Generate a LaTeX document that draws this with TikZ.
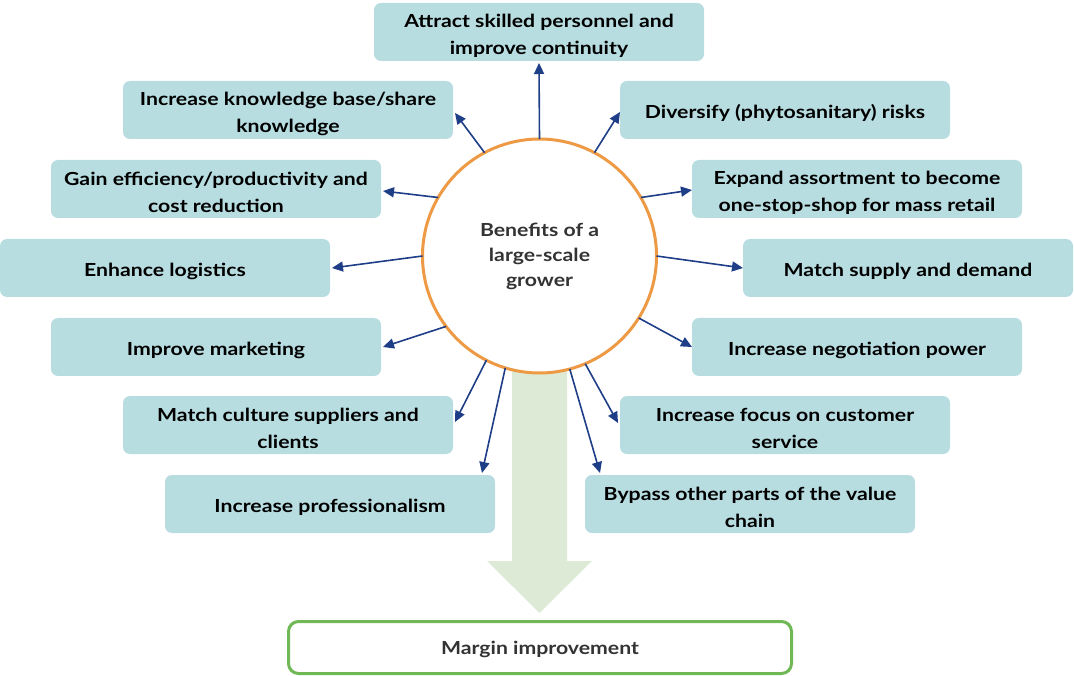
\documentclass[tikz,border=0pt]{standalone}
\usepackage{fontspec}
\setmainfont{Lato}[FakeStretch=1.18]
\usetikzlibrary{arrows.meta,calc}
\definecolor{boxfill}{HTML}{B7DDE1}
\definecolor{arrowblue}{HTML}{1F3E88}
\definecolor{ringorange}{HTML}{EE9A45}
\definecolor{bigarrow}{HTML}{DDEBD6}
\definecolor{resgreen}{HTML}{70B856}
\definecolor{darktext}{HTML}{333333}
\newcommand{\lowstrut}{\rule{0pt}{21pt}}
\begin{document}
\begin{tikzpicture}[x=1pt,y=-1pt,
  bx/.style={fill=boxfill, rounded corners=7pt, minimum width=330pt, minimum height=58pt,
    align=center, font=\fontsize{18}{27}\selectfont\bfseries, text=black, inner sep=0pt, outer sep=0pt},
  arr/.style={draw=arrowblue, line width=1.6pt, -{Triangle[length=11pt,width=10pt]}},
  hub/.style={circle, draw=ringorange, line width=3pt, fill=white, minimum size=234pt, inner sep=0pt,
    outer sep=0pt, align=center, font=\fontsize{18}{25}\selectfont\bfseries, text=darktext},
  result/.style={draw=resgreen, line width=3pt, fill=white, rounded corners=10pt, minimum width=503pt,
    minimum height=52pt, font=\fontsize{18}{25}\selectfont\bfseries, text=darktext, outer sep=0pt}]
\useasboundingbox (0,0) rectangle (1074,676);
% big green arrow
\fill[bigarrow] (512,330) -- (567,330) -- (567,561) -- (592,561) -- (539.5,613) -- (487,561) -- (512,561) -- cycle;
\node[hub] (c) at (539.5,256) {Benefits of a\\large-scale\\grower};
\node[result] (mi) at (540,647.5) {\rule{0pt}{17pt}Margin improvement};
% boxes
\node[bx] (at) at (539,32) {\lowstrut Attract skilled personnel and\\improve continuity};
\node[bx] (kn) at (288,110) {\lowstrut Increase knowledge base/share\\knowledge};
\node[bx] (dv) at (785,110) {\lowstrut Diversify (phytosanitary) risks};
\node[bx] (ge) at (216,189) {\lowstrut Gain efficiency/productivity and\\cost reduction};
\node[bx] (ex) at (857,189) {\lowstrut Expand assortment to become\\one-stop-shop for mass retail};
\node[bx] (en) at (165,268) {\lowstrut Enhance logistics};
\node[bx] (ms) at (908,268) {\lowstrut Match supply and demand};
\node[bx] (im) at (216,347) {\lowstrut Improve marketing};
\node[bx] (ng) at (857,347) {\lowstrut Increase negotiation power};
\node[bx] (mc) at (288,425) {\lowstrut Match culture suppliers and\\clients};
\node[bx] (fo) at (785,425) {\lowstrut Increase focus on customer\\service};
\node[bx] (pr) at (330,504) {\lowstrut Increase professionalism};
\node[bx] (by) at (750,504) {\lowstrut Bypass other parts of the value\\chain};
% connectors
\draw[arr] (c.90) -- ($(at.south)+(0,2)$);
\draw[arr] (c.118.9) -- ($(kn.east)+(2,3)$);
\draw[arr] (c.62.4) -- ($(dv.west)+(0,2)$);
\draw[arr] (c.150.9) -- ($(ge.east)+(2,2)$);
\draw[arr] (c.30) -- ($(ex.west)+(0,1)$);
\draw[arr] (c.180) -- ($(en.east)+(2,0)$);
\draw[arr] (c.0) -- (ms.west);
\draw[arr] (c.217.8) -- ($(im.east)+(2,0)$);
\draw[arr] (c.328.5) -- (ng.west);
\draw[arr] (c.243.2) -- ($(mc.east)+(2,-3)$);
\draw[arr] (c.293.6) -- ($(fo.west)+(-2,-2)$);
\draw[arr] (c.253) -- ($(pr.north east)+(-13,-2)$);
\draw[arr] (c.285.4) -- ($(by.north west)+(15,-2)$);
\end{tikzpicture}
\end{document}
